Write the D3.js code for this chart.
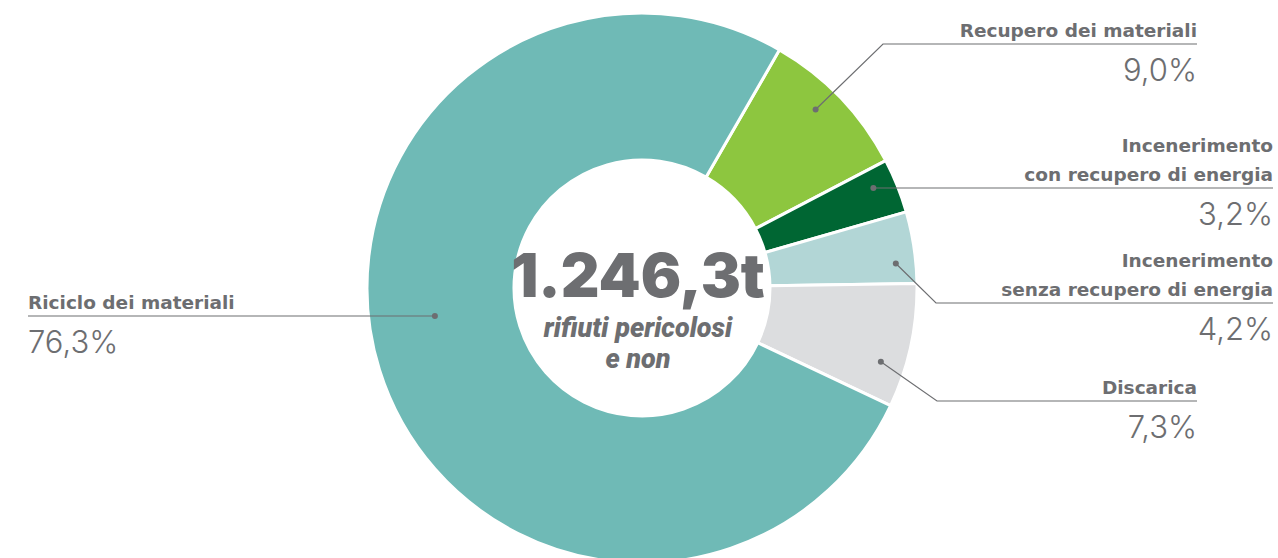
<!DOCTYPE html>
<html>
<head>
<meta charset="utf-8">
<script src="https://cdn.jsdelivr.net/npm/d3@7"></script>
<style>
  html, body { margin: 0; padding: 0; background: #fff; }
  svg { display: block; }
</style>
</head>
<body>
<div id="chart"></div>
<script>
// Data
const categories = ["Recupero dei materiali", "Incenerimento con recupero di energia",
  "Incenerimento senza recupero di energia", "Discarica", "Riciclo dei materiali"];
const values = [9.0, 3.2, 4.2, 7.3, 76.3];
const labelLines = [["Recupero dei materiali"], ["Incenerimento", "con recupero di energia"],
  ["Incenerimento", "senza recupero di energia"], ["Discarica"], ["Riciclo dei materiali"]];
const pctLabels = ["9,0%", "3,2%", "4,2%", "7,3%", "76,3%"];
const colors = ["#8dc63f", "#006633", "#b2d6d6", "#dcdddf", "#6fbab6"];
const totalLabel = "1.246,3t";
const subLabel = ["rifiuti pericolosi", "e non"];

let width = 1278;
let height = 558;
let cx = 642, cy = 288;
let outerR = 275, innerR = 128;
const grey = "#6d6e71";

// label layout: where the leader line ends and text anchors
const layout = [
  {dotR: 249, dotShift: -2, elbowX: 883, lineY: 44, endX: 1197, anchor: "end"},
  {dotR: 252, dotShift: -1.5, elbowX: null, lineY: 188, endX: 1273, anchor: "end"},
  {dotR: 255, dotShift: 3, elbowX: 936, lineY: 303, endX: 1273, anchor: "end"},
  {dotR: 250, dotShift: 5, elbowX: 937, lineY: 401, endX: 1197, anchor: "end"},
  {dotR: 209, dotShift: 9.6, elbowX: null, lineY: 316, endX: 28, anchor: "start"}
];

let svg = d3.select('#chart')
  .append('svg')
  .attr('width', width)
  .attr('height', height);

const startAngle = 30 * Math.PI / 180;
const pie = d3.pie()
  .sort(null)
  .value(d => d)
  .startAngle(startAngle)
  .endAngle(startAngle + 2 * Math.PI);

const arcs = pie(values);
const arc = d3.arc().innerRadius(innerR).outerRadius(outerR);

let g = svg.append('g').attr('transform', `translate(${cx}, ${cy})`);

g.selectAll('path')
  .data(arcs)
  .enter()
  .append('path')
  .attr('d', arc)
  .attr('fill', (d, i) => colors[i])
  .attr('stroke', '#fff')
  .attr('stroke-width', 3)
  .attr('stroke-linejoin', 'round');

// leader lines and labels
arcs.forEach((d, i) => {
  const L = layout[i];
  const a = (d.startAngle + d.endAngle) / 2 + L.dotShift * Math.PI / 180;
  const dx = cx + L.dotR * Math.sin(a);
  const dy = cy - L.dotR * Math.cos(a);
  let pts = [[dx, dy]];
  if (L.elbowX !== null) pts.push([L.elbowX, L.lineY]);
  else pts[0][1] = L.lineY;
  pts.push([L.endX, L.lineY]);

  svg.append('path')
    .attr('d', d3.line()(pts))
    .attr('fill', 'none')
    .attr('stroke', grey)
    .attr('stroke-width', 1.2);

  svg.append('circle')
    .attr('cx', pts[0][0])
    .attr('cy', pts[0][1])
    .attr('r', 3)
    .attr('fill', grey);

  const lines = labelLines[i];
  lines.forEach((t, j) => {
    svg.append('text')
      .attr('x', L.endX)
      .attr('y', L.lineY - 7 - (lines.length - 1 - j) * 29)
      .attr('text-anchor', L.anchor)
      .attr('font-family', '"DejaVu Sans", sans-serif')
      .attr('font-weight', 700)
      .attr('font-size', 18.5)
      .attr('fill', grey)
      .text(t);
  });

  svg.append('text')
    .attr('x', L.endX)
    .attr('y', L.lineY + 37)
    .attr('text-anchor', L.anchor)
    .attr('font-family', 'Inter, sans-serif')
    .attr('font-weight', 300)
    .attr('font-size', 31)
    .attr('fill', grey)
    .text(pctLabels[i]);
});

// centre text
svg.append('text')
  .attr('x', cx - 4)
  .attr('y', 297)
  .attr('text-anchor', 'middle')
  .attr('font-family', 'Inter, sans-serif')
  .attr('font-weight', 900)
  .attr('font-size', 60)
  .attr('fill', grey)
  .text(totalLabel);

subLabel.forEach((t, j) => {
  svg.append('text')
    .attr('x', cx - 4)
    .attr('y', 337 + j * 31)
    .attr('text-anchor', 'middle')
    .attr('font-family', 'Roboto, sans-serif')
    .attr('font-weight', 900)
    .attr('font-style', 'italic')
    .attr('font-size', 27)
    .attr('fill', grey)
    .text(t);
});
</script>
</body>
</html>
